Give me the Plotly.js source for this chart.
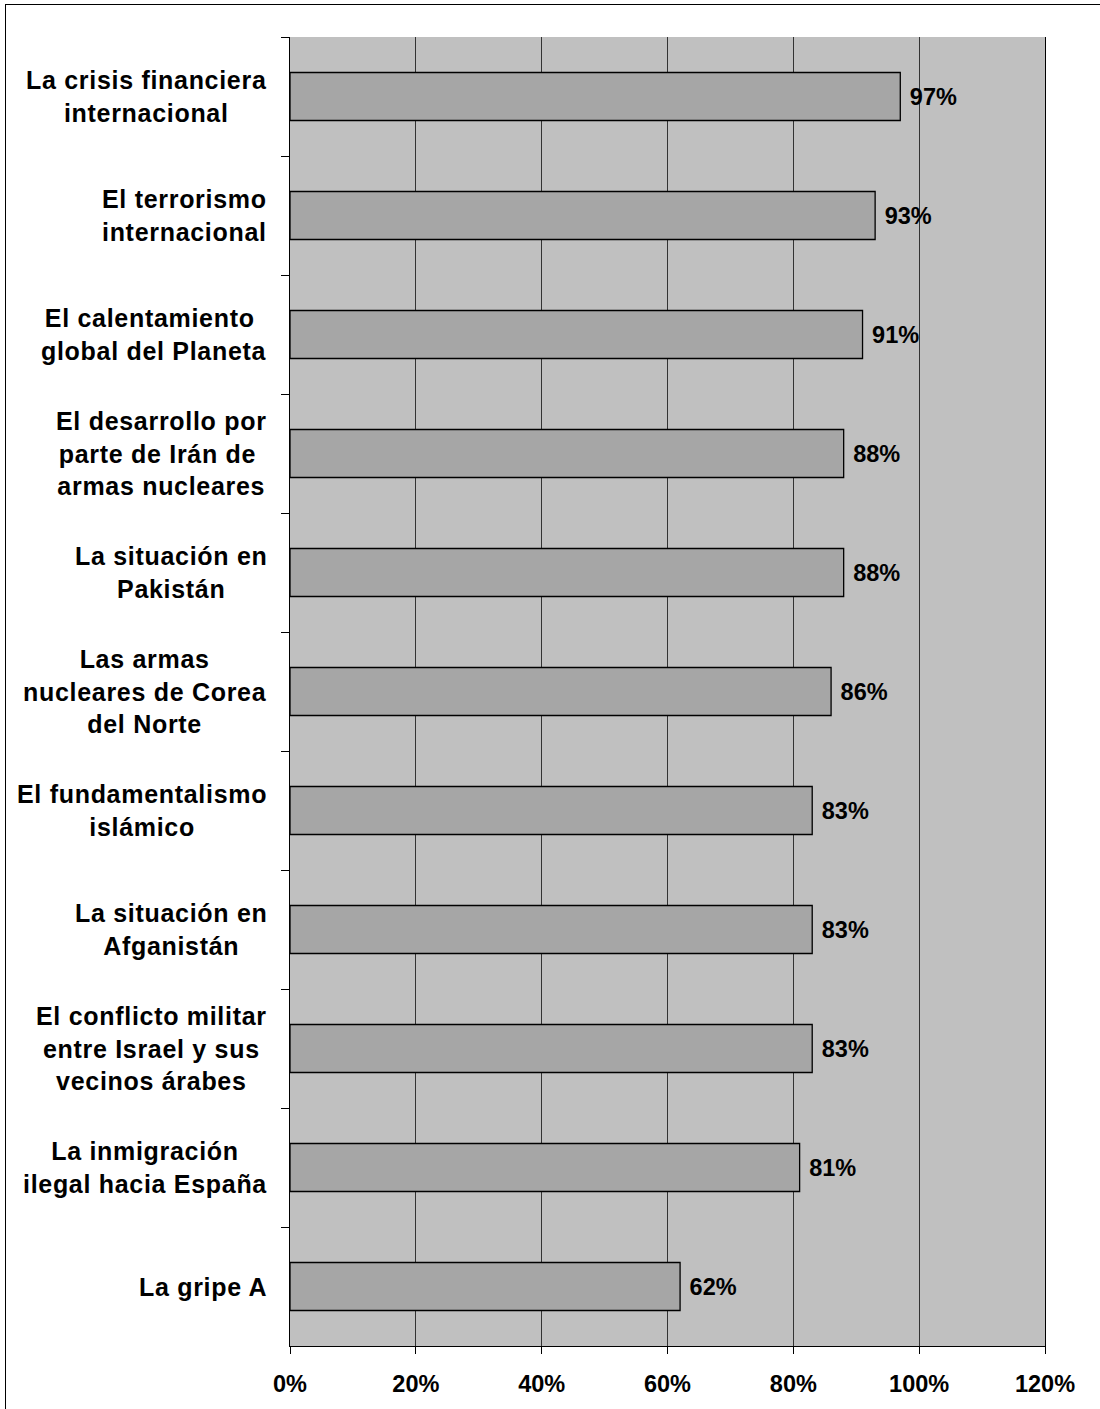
<!DOCTYPE html>
<html>
<head>
<meta charset="utf-8">
<script src="https://cdn.plot.ly/plotly-3.0.1.min.js"></script>
<style>
  html, body { margin: 0; padding: 0; background: #ffffff; }
  #wrap { position: relative; width: 1100px; height: 1409px; overflow: hidden; }
  #chart { width: 1100px; height: 1409px; }
  #frame { position: absolute; left: 5px; top: 4px; width: 1200px; height: 1500px;
           border-left: 1.5px solid #000; border-top: 1.5px solid #000; pointer-events: none; }
  .annotation-text { letter-spacing: 0.7px; }
</style>
</head>
<body>
<div id="wrap">
  <div id="chart"></div>
  <div id="frame"></div>
</div>
<script>
// Categories, top to bottom
const categories = [
  "La crisis financiera<br>internacional",
  "El terrorismo<br>internacional",
  "El calentamiento\u00a0<br>global del Planeta",
  "El desarrollo por<br>parte de Irán de\u00a0<br>armas nucleares",
  "La situación en<br>Pakistán",
  "Las armas<br>nucleares de Corea<br>del Norte",
  "El fundamentalismo<br>islámico",
  "La situación en<br>Afganistán",
  "El conflicto militar<br>entre Israel y sus<br>vecinos árabes",
  "La inmigración<br>ilegal hacia España",
  "La gripe A"
];
// Percentages
const values = [97, 93, 91, 88, 88, 86, 83, 83, 83, 81, 62];
// X axis ticks
const xTicks = [0, 20, 40, 60, 80, 100, 120];
const xTickLabels = ["0%", "20%", "40%", "60%", "80%", "100%", "120%"];

const labelFont = {family: "Liberation Sans, Arial, sans-serif", size: 25, color: "#000", weight: 700};
const boldFont = {family: "Liberation Sans, Arial, sans-serif", size: 23.5, color: "#000", weight: 700};

const trace = {
  type: "bar",
  orientation: "h",
  x: values,
  y: categories,
  marker: {color: "#A6A6A6", line: {color: "#000", width: 1.3}},
  texttemplate: "\u00a0%{x}%",
  textposition: "outside",
  constraintext: "none",
  cliponaxis: false,
  outsidetextfont: boldFont,
  hoverinfo: "skip"
};

const annotations = categories.map(c => ({
  xref: "paper", yref: "y",
  x: 0, y: c,
  xanchor: "right", yanchor: "middle",
  xshift: -21,
  align: "center",
  text: c,
  showarrow: false,
  font: labelFont
}));

const layout = {
  width: 1100, height: 1409,
  margin: {l: 290, r: 55, t: 37, b: 63, pad: 0},
  paper_bgcolor: "#ffffff",
  plot_bgcolor: "#C0C0C0",
  showlegend: false,
  bargap: 0.597,
  font: boldFont,
  xaxis: {
    range: [0, 120],
    tickvals: xTicks,
    ticktext: xTickLabels,
    showgrid: true, gridcolor: "#333333", gridwidth: 1,
    zeroline: false,
    showline: true, linecolor: "#000", linewidth: 1.2,
    ticks: "outside", ticklen: 7, tickcolor: "#000", tickwidth: 1,
    tickfont: boldFont,
    ticklabelstandoff: 10,
    fixedrange: true
  },
  yaxis: {
    type: "category",
    autorange: "reversed",
    showticklabels: false,
    showgrid: false, zeroline: false,
    showline: true, mirror: true, linecolor: "#000", linewidth: 1.2,
    ticks: "outside", ticklen: 8, tickcolor: "#000", tickwidth: 1,
    tickson: "boundaries",
    fixedrange: true
  },
  annotations: annotations
};

Plotly.newPlot("chart", [trace], layout, {staticPlot: true, displayModeBar: false});
</script>
</body>
</html>
